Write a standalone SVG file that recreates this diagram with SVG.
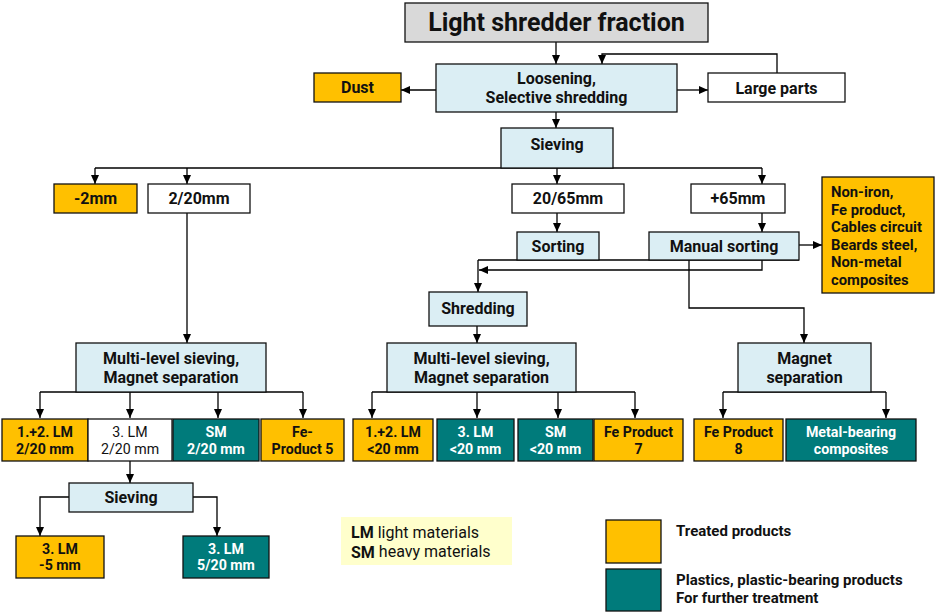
<svg xmlns="http://www.w3.org/2000/svg" width="936" height="613" viewBox="0 0 936 613">
<defs>
<marker id="ah" markerUnits="userSpaceOnUse" markerWidth="9" markerHeight="8" refX="9" refY="4" orient="auto">
<path d="M0,0 L9,4 L0,8 z" fill="#000"/>
</marker>
<style>
text{font-family:Roboto,"Noto Sans",sans-serif;font-weight:bold;fill:#111;text-anchor:middle;dominant-baseline:central}
.box{stroke:#111;stroke-width:1.3}
.gray{fill:#d9d9d9}
.blue{fill:#dbeef4}
.org{fill:#ffc000}
.teal{fill:#007b7b}
.white{fill:#fff}
.t16{font-size:16px}
.t14{font-size:14.2px}
.tw{fill:#fff}
.reg{font-weight:normal}
.lft{text-anchor:start}
#connectors path{fill:none;stroke:#000;stroke-width:1.3}
.arr{marker-end:url(#ah)}
</style>
</defs>
<rect width="936" height="613" fill="#fff"/>

<g id="connectors">
<path class="arr" d="M556,42 V64"/>
<path class="arr" d="M777,73 V54 H602 V64"/>
<path class="arr" d="M436,90 H401"/>
<path class="arr" d="M677,90 H708"/>
<path class="arr" d="M556,112 V128"/>
<path d="M95,168 H762"/>
<path class="arr" d="M95,168 V184"/>
<path class="arr" d="M187,168 V184"/>
<path class="arr" d="M557,168 V184"/>
<path class="arr" d="M762,168 V184"/>
<path class="arr" d="M187,213 V343"/>
<path class="arr" d="M557,213 V232"/>
<path class="arr" d="M762,213 V232"/>
<path class="arr" d="M799,245 H822"/>
<path d="M478,260 H799"/>
<path class="arr" d="M478,260 V292"/>
<path class="arr" d="M762,260 V270 H479"/>
<path class="arr" d="M689,260 V308 H804 V343"/>
<path class="arr" d="M477,326 V343"/>
<path d="M40,392 H303"/>
<path class="arr" d="M40,392 V418"/>
<path class="arr" d="M130,392 V418"/>
<path class="arr" d="M218,392 V418"/>
<path class="arr" d="M303,392 V418"/>
<path d="M372,392 H635"/>
<path class="arr" d="M372,392 V418"/>
<path class="arr" d="M477,392 V418"/>
<path class="arr" d="M558,392 V418"/>
<path class="arr" d="M635,392 V418"/>
<path d="M723,392 H886"/>
<path class="arr" d="M723,392 V418"/>
<path class="arr" d="M886,392 V418"/>
<path class="arr" d="M130,461 V483"/>
<path class="arr" d="M69,497 H40 V536"/>
<path class="arr" d="M193,497 H217 V536"/>
</g>

<g id="title"><rect class="box gray" x="405" y="3" width="303" height="39"/><text x="556.5" y="22.5" style="font-size:25px">Light shredder fraction</text></g>
<g id="loosening"><rect class="box blue" x="436" y="64" width="241" height="48"/><text class="t16" x="556.5" y="78.5">Loosening,</text><text class="t16" x="556.5" y="97.5">Selective shredding</text></g>
<g id="dust"><rect class="box org" x="314" y="73" width="87" height="29"/><text class="t16" x="357.5" y="87.5">Dust</text></g>
<g id="large-parts"><rect class="box white" x="708" y="73" width="137" height="29"/><text class="t16" x="776.5" y="88">Large parts</text></g>
<g id="sieving"><rect class="box blue" x="501" y="128" width="112" height="40"/><text class="t16" x="557" y="144">Sieving</text></g>
<g id="minus2"><rect class="box org" x="54" y="184" width="83" height="29"/><text class="t16" x="95.5" y="198.5">-2mm</text></g>
<g id="s2-20"><rect class="box white" x="148" y="184" width="102" height="29"/><text class="t16" x="199" y="198.5">2/20mm</text></g>
<g id="s20-65"><rect class="box white" x="512" y="184" width="112" height="29"/><text class="t16" x="568" y="198.5">20/65mm</text></g>
<g id="plus65"><rect class="box white" x="691" y="184" width="94" height="29"/><text class="t16" x="738" y="198.5">+65mm</text></g>
<g id="sorting"><rect class="box blue" x="517" y="232" width="82" height="28"/><text class="t16" x="558" y="246">Sorting</text></g>
<g id="manual-sorting"><rect class="box blue" x="649" y="232" width="150" height="28"/><text class="t16" x="724" y="246">Manual sorting</text></g>
<g id="non-iron"><rect class="box org" x="822" y="177" width="112" height="116"/>
<text class="lft" x="831" y="192" style="font-size:14.8px">Non-iron,</text>
<text class="lft" x="831" y="209.5" style="font-size:14.8px">Fe product,</text>
<text class="lft" x="831" y="227" style="font-size:14.8px">Cables circuit</text>
<text class="lft" x="831" y="244.5" style="font-size:14.8px">Beards steel,</text>
<text class="lft" x="831" y="262" style="font-size:14.8px">Non-metal</text>
<text class="lft" x="831" y="279.5" style="font-size:14.8px">composites</text></g>
<g id="shredding"><rect class="box blue" x="429" y="292" width="98" height="34"/><text class="t16" x="478" y="308">Shredding</text></g>
<g id="multi1"><rect class="box blue" x="76" y="343" width="190" height="49"/><text class="t16" x="171" y="358">Multi-level sieving,</text><text class="t16" x="171" y="377">Magnet separation</text></g>
<g id="multi2"><rect class="box blue" x="387" y="343" width="189" height="49"/><text class="t16" x="481.5" y="358">Multi-level sieving,</text><text class="t16" x="481.5" y="377">Magnet separation</text></g>
<g id="magnet"><rect class="box blue" x="738" y="343" width="133" height="49"/><text class="t16" x="804.5" y="358">Magnet</text><text class="t16" x="804.5" y="377">separation</text></g>

<g id="b1"><rect class="box org" x="2" y="419" width="86" height="42"/><text class="t14" x="45" y="431.5">1.+2. LM</text><text class="t14" x="45" y="448.5">2/20 mm</text></g>
<g id="b2"><rect class="box white" x="88" y="419" width="84" height="42"/><text class="t14 reg" x="130" y="431.5">3. LM</text><text class="t14 reg" x="130" y="448.5">2/20 mm</text></g>
<g id="b3"><rect class="box teal" x="173" y="419" width="86" height="42"/><text class="t14 tw" x="216" y="431.5">SM</text><text class="t14 tw" x="216" y="448.5">2/20 mm</text></g>
<g id="b4"><rect class="box org" x="261" y="419" width="83" height="42"/><text class="t14" x="302.5" y="431.5">Fe-</text><text class="t14" x="302.5" y="448.5">Product 5</text></g>
<g id="b5"><rect class="box org" x="353" y="419" width="80" height="42"/><text class="t14" x="393" y="431.5">1.+2. LM</text><text class="t14" x="393" y="448.5">&lt;20 mm</text></g>
<g id="b6"><rect class="box teal" x="437" y="419" width="77" height="42"/><text class="t14 tw" x="475.5" y="431.5">3. LM</text><text class="t14 tw" x="475.5" y="448.5">&lt;20 mm</text></g>
<g id="b7"><rect class="box teal" x="518" y="419" width="75" height="42"/><text class="t14 tw" x="555.5" y="431.5">SM</text><text class="t14 tw" x="555.5" y="448.5">&lt;20 mm</text></g>
<g id="b8"><rect class="box org" x="594" y="419" width="89" height="42"/><text class="t14" x="638.5" y="431.5">Fe Product</text><text class="t14" x="638.5" y="448.5">7</text></g>
<g id="b9"><rect class="box org" x="694" y="419" width="89" height="42"/><text class="t14" x="738.5" y="431.5">Fe Product</text><text class="t14" x="738.5" y="448.5">8</text></g>
<g id="b10"><rect class="box teal" x="786" y="419" width="130" height="42"/><text class="t14 tw" x="851" y="431.5">Metal-bearing</text><text class="t14 tw" x="851" y="448.5">composites</text></g>

<g id="sieving2"><rect class="box blue" x="69" y="483" width="124" height="29"/><text class="t16" x="131" y="497">Sieving</text></g>
<g id="c1"><rect class="box org" x="16" y="536" width="88" height="42"/><text class="t14" x="60" y="548.5">3. LM</text><text class="t14" x="60" y="565">-5 mm</text></g>
<g id="c2"><rect class="box teal" x="183" y="536" width="86" height="42"/><text class="t14 tw" x="226" y="548.5">3. LM</text><text class="t14 tw" x="226" y="565">5/20 mm</text></g>

<g id="legend-abbr"><rect x="341" y="517" width="171" height="48" fill="#ffffcc"/>
<text class="lft reg" x="351" y="532" style="font-size:16px"><tspan font-weight="bold">LM</tspan> light materials</text>
<text class="lft reg" x="351" y="551.5" style="font-size:16px"><tspan font-weight="bold">SM</tspan> heavy materials</text></g>
<g id="legend-colors">
<rect class="box org" x="606" y="520" width="55" height="43"/>
<rect class="box teal" x="606" y="569" width="55" height="42"/>
<text class="lft" x="676" y="531" style="font-size:15px">Treated products</text>
<text class="lft" x="676" y="580" style="font-size:15px">Plastics, plastic-bearing products</text>
<text class="lft" x="676" y="598" style="font-size:15px">For further treatment</text></g>
</svg>
